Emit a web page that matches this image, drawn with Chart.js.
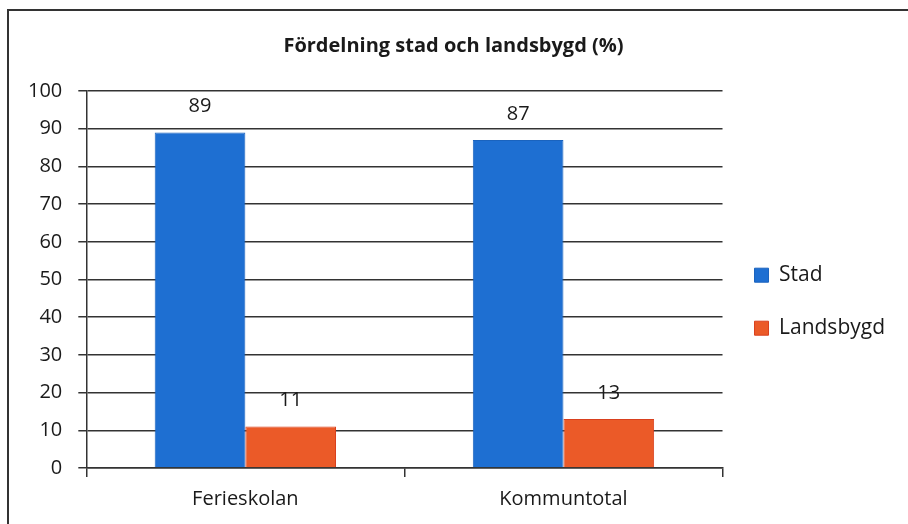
<!DOCTYPE html>
<html>
<head>
<meta charset="utf-8">
<script src="https://cdn.jsdelivr.net/npm/chart.js@4"></script>
<style>
  body { margin: 0; background: #fff; }
  #wrap { width: 908px; height: 524px; }
</style>
</head>
<body>
<div id="wrap"><canvas id="myChart"></canvas></div>
<script>
const categories = ['Ferieskolan', 'Kommuntotal'];
const stad = [89, 87];
const landsbygd = [11, 13];
const yTicks = [0, 100, 10]; // min, max, step

const ctx = document.getElementById('myChart');
const fam = '"Open Sans", sans-serif';

// value labels above bars + left/top frame
const valueLabels = {
    id: 'valueLabels',
    afterDatasetsDraw(chart) {
        const c = chart.ctx;
        c.save();
        c.font = '20px ' + fam;
        c.fillStyle = '#1a1a1a';
        c.textAlign = 'center';
        c.textBaseline = 'middle';
        chart.data.datasets.forEach((ds, i) => {
            chart.getDatasetMeta(i).data.forEach((bar, j) => {
                c.fillText(ds.data[j], bar.x, bar.y - 26);
            });
        });
        c.restore();
    },
    afterDraw(chart) {
        const c = chart.ctx;
        c.save();
        c.strokeStyle = '#333';
        c.lineWidth = 2;
        c.beginPath();
        c.moveTo(8, chart.height);
        c.lineTo(8, 10);
        c.lineTo(chart.width, 10);
        c.stroke();
        c.restore();
    }
};

new Chart(ctx, {
    type: 'bar',
    data: {
        labels: categories,
        datasets: [{
            label: 'Stad',
            data: stad,
            backgroundColor: '#1E6FD2',
            borderColor: '#1A63BE',
            borderWidth: 1,
            categoryPercentage: 0.57,
            barPercentage: 1.0
        }, {
            label: 'Landsbygd',
            data: landsbygd,
            backgroundColor: '#EB5A28',
            borderColor: '#D9401E',
            borderWidth: 1,
            categoryPercentage: 0.57,
            barPercentage: 1.0
        }]
    },
    options: {
        responsive: true,
        maintainAspectRatio: false,
        animation: false,
        layout: { padding: { left: 12, right: 13, top: 0, bottom: 3 } },
        plugins: {
            title: {
                display: true,
                text: 'Fördelning stad och landsbygd (%)',
                color: '#1a1a1a',
                font: { family: fam, size: 20, weight: 'bold' },
                padding: { top: 34, bottom: 33 }
            },
            legend: {
                position: 'right',
                title: { display: true, text: '', padding: 34 },
                labels: {
                    color: '#1a1a1a',
                    boxWidth: 14,
                    boxHeight: 14,
                    padding: 32,
                    font: { family: fam, size: 21 }
                }
            },
            tooltip: { enabled: false }
        },
        scales: {
            x: {
                grid: {
                    offset: true,
                    drawOnChartArea: false,
                    color: '#333',
                    lineWidth: 1.5,
                    tickLength: 9
                },
                border: { color: '#333', width: 1.5 },
                ticks: {
                    color: '#1a1a1a',
                    padding: 10,
                    font: { family: fam, size: 20 }
                }
            },
            y: {
                min: yTicks[0],
                max: yTicks[1],
                ticks: {
                    stepSize: yTicks[2],
                    color: '#1a1a1a',
                    padding: 16,
                    font: { family: fam, size: 20 }
                },
                grid: { color: '#333', lineWidth: 1.5, tickLength: 8 },
                border: { color: '#333', width: 1.5 }
            }
        }
    },
    plugins: [valueLabels]
});
</script>
</body>
</html>
